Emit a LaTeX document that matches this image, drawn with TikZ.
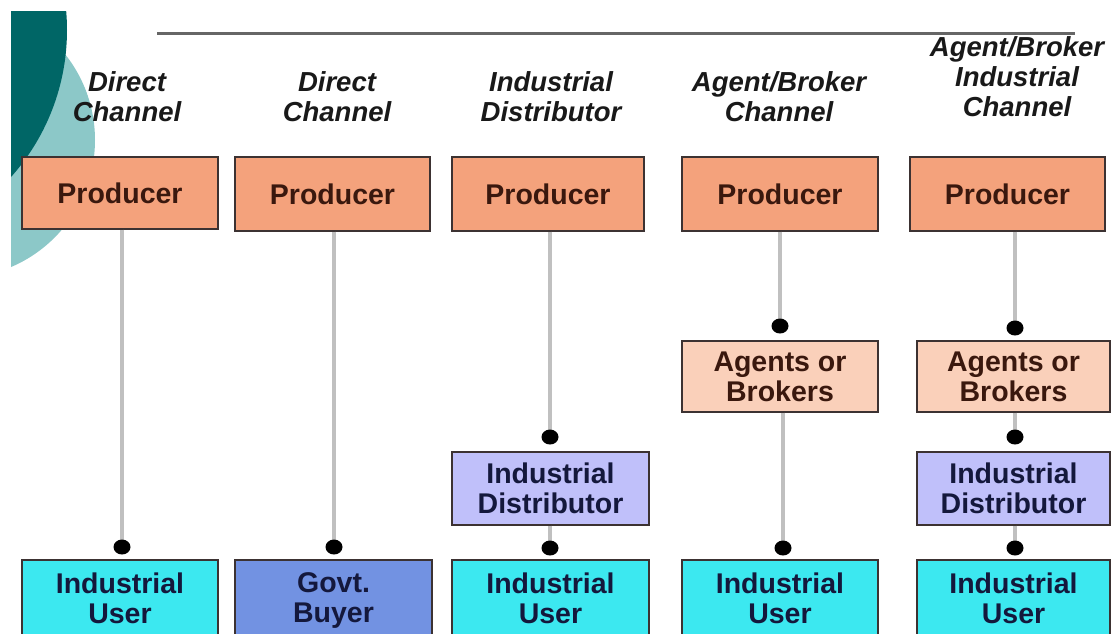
\documentclass[tikz,border=0pt]{standalone}
\usepackage{fontspec}
\setmainfont{Liberation Sans}
\usetikzlibrary{shapes.geometric}
\definecolor{darkteal}{RGB}{0,102,102}
\definecolor{lightteal}{RGB}{140,200,200}
\definecolor{prodfill}{RGB}{244,162,124}
\definecolor{agentfill}{RGB}{250,208,186}
\definecolor{distfill}{RGB}{192,192,250}
\definecolor{userfill}{RGB}{60,232,240}
\definecolor{govfill}{RGB}{114,146,226}
\definecolor{boxline}{RGB}{60,50,50}
\definecolor{conn}{RGB}{192,192,192}
\definecolor{toptxt}{RGB}{58,24,14}
\definecolor{navytxt}{RGB}{20,24,60}
\newcommand{\nodepth}[1]{\raisebox{0pt}[\height][0pt]{#1}}
\begin{document}
\begin{tikzpicture}[x=1pt,y=-1pt,
  boxbase/.style={draw=boxline, line width=1.2pt, rectangle, inner sep=0pt, align=center,
    font=\fontsize{28.5}{30}\selectfont\bfseries},
  prodbox/.style={boxbase, fill=prodfill, text=toptxt},
  agentbox/.style={boxbase, fill=agentfill, text=toptxt},
  distbox/.style={boxbase, fill=distfill, text=navytxt},
  userbox/.style={boxbase, fill=userfill, text=navytxt},
  govbox/.style={boxbase, fill=govfill, text=navytxt},
  title/.style={align=center, text=black!90, font=\fontsize{27.5}{30}\selectfont\bfseries\itshape},
  dot/.style={ellipse, minimum width=17pt, minimum height=15pt, inner sep=0pt},
  link/.style={draw=conn, line width=4pt}
]
\useasboundingbox (0,0) rectangle (1115,633);
\fill[white] (0,0) rectangle (1115,633);
\begin{scope}
  \clip (11,11) rectangle (1115,633);
  \fill[lightteal] (-43,140) circle[radius=138];
  \fill[darkteal] (-154,30) circle[radius=221];
\end{scope}
\coordinate (tl) at (157,33);
\coordinate (tr) at (1075,33);
\draw[line width=3pt, draw=black!60] (tl) -- (tr);

% titles
\node[title] (t1) at (127,97) {Direct\\Channel};
\node[title] (t2) at (337,97) {Direct\\Channel};
\node[title] (t3) at (551,97) {Industrial\\Distributor};
\node[title] (t4) at (779,97) {Agent/Broker\\Channel};
\node[title] (t5) at (1017,77) {Agent/Broker\\Industrial\\Channel};

% producers
\node[prodbox, minimum width=196pt, minimum height=72pt] (p1) at (120,193) {Producer};
\node[prodbox, minimum width=195pt, minimum height=74pt] (p2) at (332.5,194) {Producer};
\node[prodbox, minimum width=192pt, minimum height=74pt] (p3) at (548,194) {Producer};
\node[prodbox, minimum width=196pt, minimum height=74pt] (p4) at (780,194) {Producer};
\node[prodbox, minimum width=195pt, minimum height=74pt] (p5) at (1007.5,194) {Producer};

% middles
\node[agentbox, minimum width=196pt, minimum height=71pt] (a4) at (780,376.5) {Agents or\\Brokers};
\node[agentbox, minimum width=193pt, minimum height=71pt] (a5) at (1013.5,376.5) {Agents or\\Brokers};
\node[distbox, minimum width=197pt, minimum height=73pt] (d3) at (550.5,488.5) {Industrial\\Distributor};
\node[distbox, minimum width=193pt, minimum height=73pt] (d5) at (1013.5,488.5) {Industrial\\Distributor};

% users
\node[userbox, minimum width=196pt, minimum height=76pt] (u1) at (120,598) {Industrial\\User};
\node[govbox, minimum width=197pt, minimum height=76pt] (u2) at (333.5,598) {Govt.\\\nodepth{Buyer}};
\node[userbox, minimum width=197pt, minimum height=76pt] (u3) at (550.5,598) {Industrial\\User};
\node[userbox, minimum width=196pt, minimum height=76pt] (u4) at (780,598) {Industrial\\User};
\node[userbox, minimum width=193pt, minimum height=76pt] (u5) at (1013.5,598) {Industrial\\User};

% dots
\node[dot] (k1) at (122,547) {};
\node[dot] (k2) at (334,547) {};
\node[dot] (k3a) at (550,437) {};
\node[dot] (k3b) at (550,548) {};
\node[dot] (k4a) at (780,326) {};
\node[dot] (k4b) at (783,548) {};
\node[dot] (k5a) at (1015,328) {};
\node[dot] (k5b) at (1015,437) {};
\node[dot] (k5c) at (1015,548) {};

% connectors
\draw[link] (p1.south -| k1) -- (k1.center);
\draw[link] (p2.south -| k2) -- (k2.center);
\draw[link] (p3.south -| k3a) -- (k3a.center);
\draw[link] (d3.south -| k3b) -- (k3b.center);
\draw[link] (p4.south -| k4a) -- (k4a.center);
\draw[link] (a4.south -| k4b) -- (k4b.center);
\draw[link] (p5.south -| k5a) -- (k5a.center);
\draw[link] (a5.south -| k5b) -- (k5b.center);
\draw[link] (d5.south -| k5c) -- (k5c.center);
\foreach \k in {k1,k2,k3a,k3b,k4a,k4b,k5a,k5b,k5c}{
  \fill[black] (\k.center) ellipse[x radius=8.5pt, y radius=7.5pt];
}
\end{tikzpicture}
\end{document}
